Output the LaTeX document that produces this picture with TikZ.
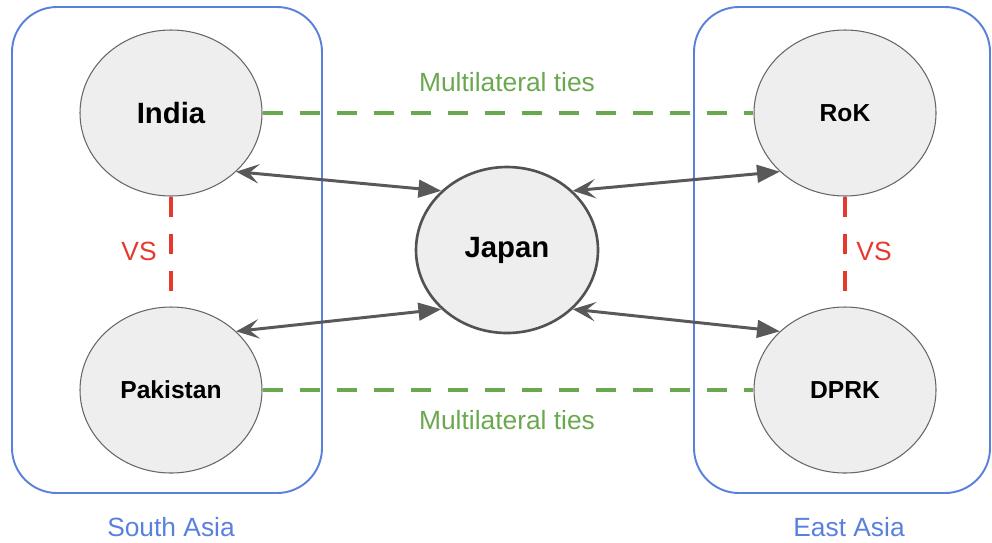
\documentclass[tikz,border=0pt]{standalone}
\usepackage{fontspec}
\setmainfont{Liberation Sans}
\usetikzlibrary{arrows.meta,shapes.geometric}
\definecolor{colregion}{HTML}{5A80DE}
\definecolor{colmulti}{HTML}{6AA84F}
\definecolor{colrival}{HTML}{E5392E}
\definecolor{collink}{HTML}{595959}
\definecolor{colnode}{HTML}{EEEEEE}

\begin{document}
\begin{tikzpicture}[
  country/.style={ellipse,draw=black!60,fill=colnode,line width=0.6pt,
    minimum width=3.64cm,minimum height=3.32cm,inner sep=0pt,
    font=\bfseries\fontsize{14}{16}\selectfont},
  big/.style={font=\bfseries\fontsize{16.7}{19}\selectfont},
  region/.style={draw=colregion,line width=1.1pt,rounded corners=0.9cm},
  regionlabel/.style={colregion,font=\fontsize{15}{18}\selectfont},
  multi/.style={colmulti,line width=2.3pt,dash pattern=on 0.4cm off 0.34cm},
  rival/.style={colrival,line width=2.3pt,dash pattern=on 0.4cm off 0.34cm},
  link/.style={collink,line width=1.7pt,
    {Stealth[length=13pt,width=11pt,inset=5.5pt]}-{Triangle[length=13pt,width=10pt]}},
]
  \useasboundingbox (0,0) rectangle (19.84,-10.84);
  % ---- regions ----
  \draw[region] (0.24,-0.14) rectangle (6.44,-9.86);
  \draw[region] (13.88,-0.14) rectangle (19.80,-9.86);
  \node[regionlabel] (southlbl) at (3.42,-10.54) {South Asia};
  \node[regionlabel] (eastlbl)  at (16.98,-10.54) {East Asia};

  % ---- countries ----
  \node[country,big] (india)    at (3.42,-2.26)  {India};
  \node[country]     (pakistan) at (3.42,-7.80)  {Pakistan};
  \node[country]     (rok)      at (16.90,-2.26) {RoK};
  \node[country]     (dprk)     at (16.90,-7.80) {DPRK};
  \node[country,big,draw=black!68,line width=1.5pt] (japan) at (10.14,-5.00) {Japan};

  % ---- multilateral ties ----
  \draw[multi] (india.east) -- (rok.west);
  \draw[multi] (pakistan.east) -- (dprk.west);
  \node[regionlabel,colmulti] (multitop) at (10.14,-1.64) {Multilateral ties};
  \node[regionlabel,colmulti] (multibot) at (10.14,-8.40) {Multilateral ties};

  % ---- rivalries ----
  \draw[rival] (india.south) -- (pakistan.north);
  \draw[rival] (rok.south) -- (dprk.north);
  \node[regionlabel,colrival] (vsleft)  at (2.78,-5.02)  {VS};
  \node[regionlabel,colrival] (vsright) at (17.48,-5.02) {VS};

  % ---- links to Japan ----
  \draw[link] (india.-42)    -- (japan.138);
  \draw[link] (pakistan.42)  -- (japan.222);
  \draw[link] (japan.42)     -- (rok.222);
  \draw[link] (japan.-42)    -- (dprk.138);
\end{tikzpicture}
\end{document}
